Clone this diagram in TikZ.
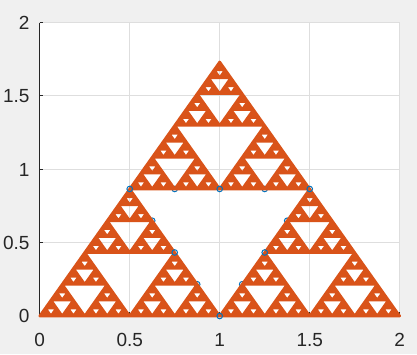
\documentclass[tikz,border=0pt]{standalone}
\usepackage{fontspec}
\setmainfont{Liberation Sans}
\definecolor{figbg}{RGB}{240,240,240}
\definecolor{gridgray}{RGB}{222,222,222}
\definecolor{axisgray}{RGB}{38,38,38}
\definecolor{sierporange}{RGB}{217,83,25}
\definecolor{markblue}{RGB}{0,114,189}
\tikzset{
  gridline/.style={gridgray, line width=0.5pt},
  axisline/.style={axisgray, line width=0.5pt},
  ticklabel/.style={font=\fontsize{9.5}{11}\selectfont, text=axisgray, inner sep=0pt},
  sierpfill/.style={fill=sierporange, draw=sierporange, line width=1.3pt, line join=round, even odd rule},
  ring/.style={draw=markblue, line width=0.5pt, circle, inner sep=0pt, minimum size=2.8pt}
}
% holes of the triangle with lower left corner #1,#2 and side #3, #4 levels deep
\newcommand\addholes[4]{%
  \ifnum#4>0
    \begingroup
    \pgfmathsetmacro\hx{#1}\pgfmathsetmacro\hy{#2}%
    \pgfmathsetmacro\hs{#3/2}\pgfmathsetmacro\hh{#3*0.4330127}%
    \pgfmathsetmacro\hxa{\hx+\hs/2}\pgfmathsetmacro\hxb{\hx+\hs}%
    \pgfmathsetmacro\hxc{\hx+1.5*\hs}\pgfmathsetmacro\hyb{\hy+\hh}%
    \xdef\holes{\holes (\hxa,\hyb) -- (\hxc,\hyb) -- (\hxb,\hy) -- cycle}%
    \edef\next{\noexpand\addholes{\hx}{\hy}{\hs}{\the\numexpr#4-1\relax}%
      \noexpand\addholes{\hxb}{\hy}{\hs}{\the\numexpr#4-1\relax}%
      \noexpand\addholes{\hxa}{\hyb}{\hs}{\the\numexpr#4-1\relax}}%
    \next
    \endgroup
  \fi}
\begin{document}
\begin{tikzpicture}[x=90pt, y=73.35pt]
\fill[figbg] (-0.2206,-0.2591) rectangle (2.0961,2.1541);
\useasboundingbox (-0.2206,-0.2591) rectangle (2.0961,2.1541);
\fill[white] (0,0) rectangle (2,2);
% grid
\foreach \t in {0,0.5,1,1.5,2} {
  \draw[gridline] (\t,0) -- (\t,2);
  \draw[gridline] (0,\t) -- (2,\t);
}
% axes and ticks
\coordinate (O) at (0,0);
\coordinate (X) at (2,0);
\coordinate (Y) at (0,2);
\draw[axisline] (Y) -- (O) -- (X);
\foreach \t in {0,0.5,1,1.5,2} {
  \draw[axisline] (\t,0) -- ++(0,1.8pt);
  \draw[axisline] (0,\t) -- ++(1.8pt,0);
}
% points under the triangle
\foreach \px/\py [count=\i] in {0.75/0.866, 1.25/0.866, 0.625/0.6495, 1.375/0.6495, 0.875/0.2165, 1.125/0.2165}
  \node[ring] (h\i) at (\px,\py) {};
% the triangle
\gdef\holes{}
\addholes{0}{0}{2}{6}
\path[sierpfill] (0,0) -- (2,0) -- (1,1.7320508) -- cycle \holes;
% points on top
\foreach \px/\py [count=\i] in {0.5/0.866, 1/0.866, 1.5/0.866, 0.75/0.433, 1.25/0.433, 1/0}
  \node[ring] (p\i) at (\px,\py) {};
% tick labels
\foreach \t/\s [count=\i] in {0/0, 0.5/0.5, 1/1, 1.5/1.5, 2/2} {
  \node[ticklabel, anchor=base] (xl\i) at (\t,0) [yshift=-15pt] {\s};
  \node[ticklabel, anchor=base east] (yl\i) at (0,\t) [xshift=-4.9pt, yshift=-3.4pt] {\s};
}
\end{tikzpicture}
\end{document}
